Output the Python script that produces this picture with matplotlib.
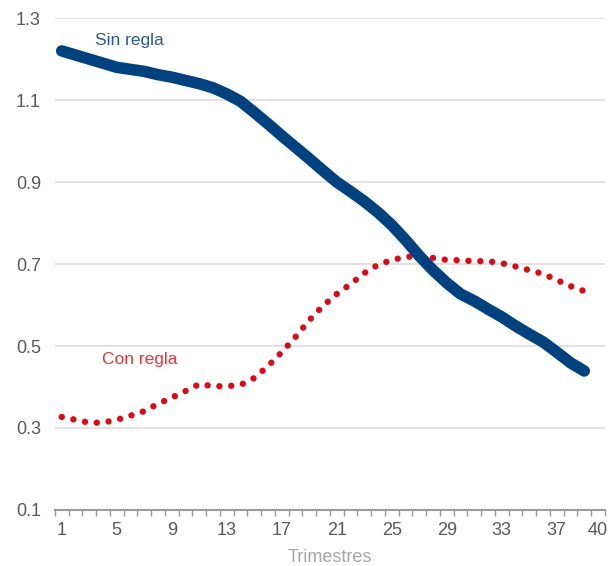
import numpy as np
import matplotlib
matplotlib.use('Agg')
import matplotlib.pyplot as plt

plt.rcParams['font.family'] = ['Liberation Sans', 'DejaVu Sans']

# Quarters (trimestres)
trimestres = list(range(1, 40))

sin_regla = [1.22, 1.21, 1.20, 1.19, 1.18, 1.175, 1.17, 1.162, 1.156, 1.148,
             1.14, 1.13, 1.115, 1.097, 1.07, 1.042, 1.013, 0.985, 0.957, 0.928,
             0.90, 0.877, 0.853, 0.826, 0.795, 0.759, 0.72, 0.685, 0.654, 0.627,
             0.61, 0.59, 0.571, 0.549, 0.529, 0.51, 0.485, 0.459, 0.439]

con_regla = [0.327, 0.32, 0.313, 0.313, 0.32, 0.33, 0.341, 0.359, 0.374, 0.39,
             0.407, 0.402, 0.402, 0.405, 0.422, 0.451, 0.485, 0.522, 0.563, 0.598,
             0.627, 0.651, 0.678, 0.698, 0.71, 0.717, 0.72, 0.715, 0.71, 0.709,
             0.707, 0.707, 0.702, 0.694, 0.685, 0.676, 0.661, 0.646, 0.634]

x_labels = [1, 5, 9, 13, 17, 21, 25, 29, 33, 37, 40]
y_ticks = [0.1, 0.3, 0.5, 0.7, 0.9, 1.1, 1.3]

fig = plt.figure(figsize=(6.16, 5.66), dpi=100)
ax = fig.add_axes([0.089, 0.099, 0.893, 0.869])

for y in y_ticks[1:]:
    ax.axhline(y, color='#d9d9d9', lw=1.1, zorder=0)

ax.plot(trimestres, con_regla, color='#e30613', lw=4.6,
        linestyle=(0, (0.01, 1.85)), dash_capstyle='round', zorder=2)
ax.plot(trimestres, sin_regla, color='#00427f', lw=8.3, solid_capstyle='round',
        solid_joinstyle='round', zorder=3)

ax.text(3.4, 1.246, 'Sin regla', color='#2a5a97', fontsize=12.5, va='center', ha='left')
ax.text(3.9, 0.466, 'Con regla', color='#e8333d', fontsize=12.5, va='center', ha='left')

ax.set_xlim(0.5, 40.5)
ax.set_ylim(0.1, 1.3)
ax.set_yticks(y_ticks)
ax.set_yticklabels([f'{v:.1f}' for v in y_ticks])
ax.set_xticks(x_labels)
ax.set_xticklabels([str(v) for v in x_labels])
ax.set_xticks(np.arange(0.5, 41, 1), minor=True)

ax.tick_params(axis='x', which='major', length=0, pad=9, labelsize=13, labelcolor='#595959')
ax.tick_params(axis='x', which='minor', length=4, width=1, color='#9a9a9a', direction='out')
ax.tick_params(axis='y', length=0, pad=10, labelsize=13, labelcolor='#595959')

for side in ['left', 'right', 'top']:
    ax.spines[side].set_visible(False)
ax.spines['bottom'].set_color('#9a9a9a')
ax.spines['bottom'].set_linewidth(1.5)

ax.set_xlabel('Trimestres', fontsize=13, color='#a6a6a6', labelpad=7)

fig.savefig('out.png', dpi=100)
